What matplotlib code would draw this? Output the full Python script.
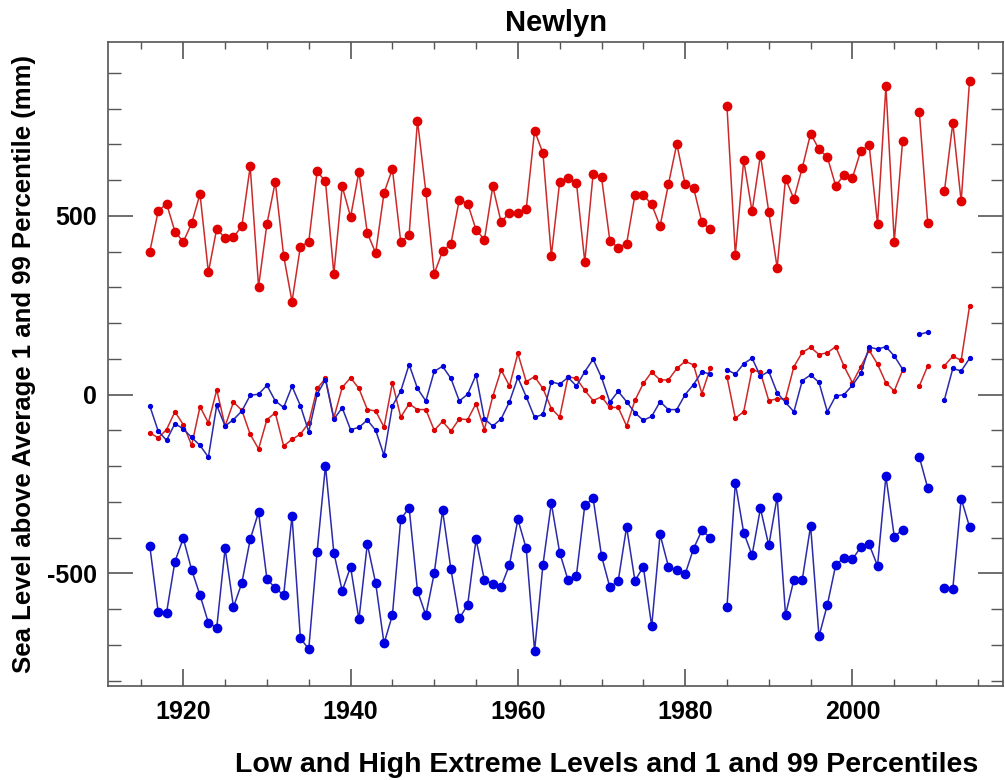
import numpy as np
import matplotlib
matplotlib.use('Agg')
import matplotlib.pyplot as plt
from matplotlib.ticker import MultipleLocator

plt.rcParams['font.family'] = ['Liberation Sans', 'DejaVu Sans']
plt.rcParams['font.weight'] = 'bold'
plt.rcParams['axes.unicode_minus'] = False

nan = np.nan
years = np.arange(1916, 2015)

# annual high extremes (mm)
high_ext = [400, 513, 534, 456,
            427, 479, 561, 342, 464, 437, 440, 471, 638, 302,
            477, 595, 388, 260, 414, 427, 624, 596, 338, 582,
            497, 623, 452, 396, 564, 631, 427, 446, 766, 567,
            338, 401, 422, 545, 534, 461, 433, 582, 482, 509,
            509, 519, 738, 675, 388, 595, 605, 593, 371, 618,
            608, 430, 411, 422, 558, 558, 532, 471, 588, 701,
            588, 579, 482, 462, nan, 806, 391, 655, 512, 670,
            510, 355, 604, 547, 634, 730, 686, 664, 584, 614,
            606, 682, 697, 477, 862, 428, 710, nan, 789, 481,
            nan, 569, 760, 540, 878]

# annual low extremes (mm)
low_ext = [-424, -608, -610, -467,
           -402, -490, -561, -638, -652, -430, -594, -527, -405, -329,
           -516, -541, -561, -340, -681, -712, -439, -199, -442, -549,
           -482, -629, -418, -527, -696, -617, -349, -316, -549, -617,
           -500, -324, -489, -626, -588, -405, -519, -529, -537, -476,
           -349, -430, -717, -476, -304, -442, -519, -506, -310, -290,
           -451, -539, -521, -370, -521, -481, -648, -391, -481, -491,
           -502, -431, -380, -400, nan, -594, -247, -386, -449, -318,
           -422, -286, -616, -518, -518, -367, -676, -588, -477, -456,
           -461, -426, -419, -479, -228, -397, -378, nan, -175, -261,
           nan, -541, -543, -291, -370]

# 99 percentile (mm)
p99 = [-107, -121, -98, -48,
       -84, -142, -34, -79, 13, -88, -21, -44, -111, -152,
       -70, -51, -144, -125, -111, -79, 17, 45, -65, 20,
       47, 17, -42, -46, -91, 33, -63, -26, -42, -42,
       -100, -75, -102, -68, -70, -25, -98, -5, 69, 24,
       115, 36, 50, 17, -39, -63, 50, 45, 12, -17,
       -6, -36, -36, -88, -16, 31, 63, 41, 41, 73,
       93, 83, 3, 73, nan, 50, -66, -48, 70, 62,
       -17, -12, -12, 78, 118, 132, 112, 117, 134, 79,
       33, 78, 124, 85, 33, 10, 68, nan, 24, 80,
       nan, 81, 107, 96, 247]

# 1 percentile (mm)
p01 = [-32, -102, -128, -81,
       -96, -120, -142, -175, -30, -88, -70, -46, -2, 1,
       26, -18, -36, 23, -31, -104, 1, 42, -69, -37,
       -98, -92, -71, -100, -170, -32, 10, 84, 17, -18,
       65, 79, 45, -18, 1, 55, -68, -88, -68, -20,
       48, -6, -64, -55, 36, 29, 48, 24, 64, 99,
       48, -21, 9, -20, -51, -72, -61, -20, -42, -42,
       0, 28, 64, 57, nan, 70, 57, 86, 102, 51,
       65, 5, -22, -48, 39, 55, 34, -48, -4, 0,
       26, 59, 133, 127, 134, 108, 71, nan, 168, 175,
       nan, -14, 73, 66, 101]

red = '#e00000'
red_line = '#cc2a2a'
blue = '#0000e0'
blue_line = '#2a2aaa'

fig = plt.figure(figsize=(10.05, 7.8), dpi=100)
ax = fig.add_axes([108 / 1005, 1 - 686 / 780, 895 / 1005, 644 / 780])

ax.plot(years, high_ext, '-o', color=red_line, mfc=red, mec=red, lw=1.1, ms=6)
ax.plot(years, low_ext, '-o', color=blue_line, mfc=blue, mec=blue, lw=1.1, ms=6)
ax.plot(years, p99, '-o', color=red_line, mfc=red, mec=red, lw=1.1, ms=2.8)
ax.plot(years, p01, '-o', color=blue_line, mfc=blue, mec=blue, lw=1.1, ms=2.8)

ax.set_xlim(1911, 2018)
ax.set_ylim(-815, 986)
ax.xaxis.set_major_locator(MultipleLocator(20))
ax.xaxis.set_minor_locator(MultipleLocator(5))
ax.yaxis.set_major_locator(MultipleLocator(500))
ax.yaxis.set_minor_locator(MultipleLocator(100))

for sp in ax.spines.values():
    sp.set_color('#555555')
    sp.set_linewidth(1.2)
ax.tick_params(which='both', direction='in', top=True, right=True,
               colors='#555555', labelcolor='black', labelsize=18)
ax.tick_params(which='major', axis='y', length=18, width=1.2, pad=8)
ax.tick_params(which='minor', axis='y', length=9, width=1.0)
ax.tick_params(which='major', axis='x', length=12, width=1.2, pad=10)
ax.tick_params(which='minor', axis='x', length=5, width=1.0)

ax.set_title('Newlyn', fontsize=21, fontweight='bold', pad=8)
ax.set_ylabel('Sea Level above Average 1 and 99 Percentile (mm)',
              fontsize=18.5, fontweight='bold', labelpad=8)
fig.text(607 / 1005, 1 - 765 / 780,
         'Low and High Extreme Levels and 1 and 99 Percentiles',
         ha='center', va='center', fontsize=20.5, fontweight='bold')

fig.savefig('out.png', dpi=100)
